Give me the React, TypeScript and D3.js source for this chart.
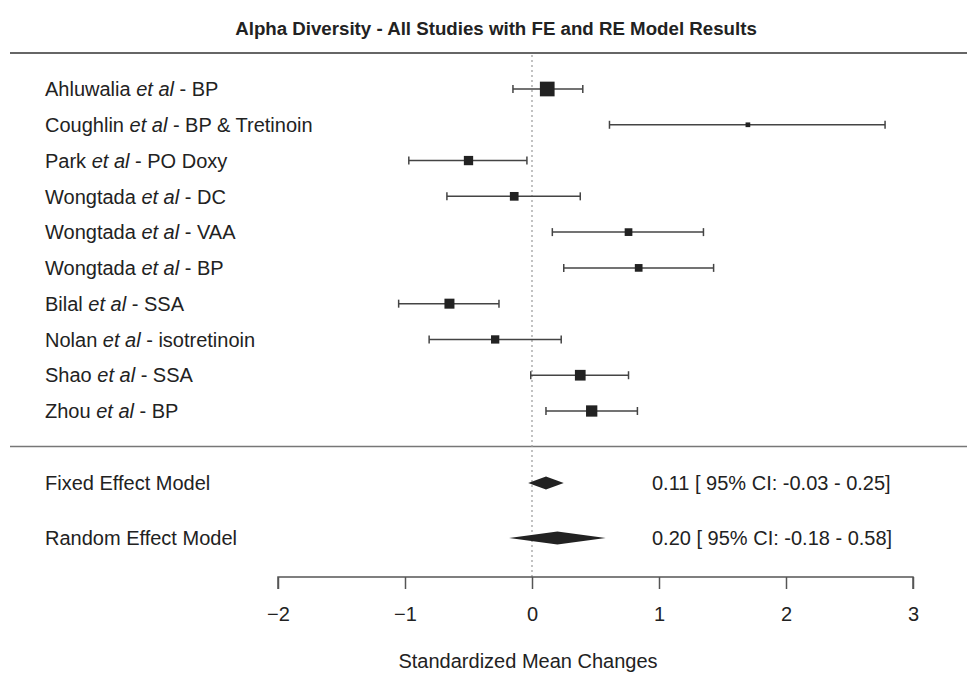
import React, { useEffect, useRef } from "react";
import * as d3 from "d3";

// study rows
const studies = ["Ahluwalia", "Coughlin", "Park", "Wongtada", "Wongtada", "Wongtada", "Bilal", "Nolan", "Shao", "Zhou"];
const treatments = ["BP", "BP & Tretinoin", "PO Doxy", "DC", "VAA", "BP", "SSA", "isotretinoin", "SSA", "BP"];
const estimates = [0.12, 1.70, -0.50, -0.14, 0.76, 0.84, -0.65, -0.29, 0.38, 0.47];
const ciLower = [-0.15, 0.61, -0.97, -0.67, 0.16, 0.25, -1.05, -0.81, -0.01, 0.11];
const ciUpper = [0.40, 2.78, -0.04, 0.38, 1.35, 1.43, -0.26, 0.23, 0.76, 0.83];
const weights = [14.7, 4.7, 9.3, 8.7, 7.7, 7.7, 10.0, 8.3, 10.7, 11.3];

// pooled models
const models = ["Fixed Effect Model", "Random Effect Model"];
const modelEstimates = [0.11, 0.20];
const modelLower = [-0.03, -0.18];
const modelUpper = [0.25, 0.58];

const xTicks = [-2, -1, 0, 1, 2, 3];

const W = 967;
const H = 674;
const FONT = "'Liberation Sans', Arial, Helvetica, sans-serif";

const App = () => {
    const svgRef = useRef<SVGSVGElement | null>(null);

    useEffect(() => {
        document.body.style.margin = "0";
        const svg = d3.select(svgRef.current);
        svg.selectAll("*").remove();

        const x = d3.scaleLinear().domain([-2, 3]).range([278, 913]);
        const y = d3.scalePoint<number>().domain(d3.range(studies.length)).range([89, 411]);
        const yModel = d3.scalePoint<number>().domain(d3.range(models.length)).range([483, 538]);
        const size = d3.scaleLinear().domain([0, d3.max(weights) as number]).range([0, 14.7]);

        const axisY = 577;
        const textColor = "#222";

        // title
        svg.append("text")
            .attr("x", 496)
            .attr("y", 35)
            .attr("text-anchor", "middle")
            .attr("font-family", FONT)
            .attr("font-weight", "bold")
            .attr("font-size", 18.7)
            .attr("fill", textColor)
            .text("Alpha Diversity - All Studies with FE and RE Model Results");

        // separator lines
        svg.append("line")
            .attr("x1", 10).attr("x2", W)
            .attr("y1", 53).attr("y2", 53)
            .attr("stroke", "#666").attr("stroke-width", 2);
        svg.append("line")
            .attr("x1", 10).attr("x2", W)
            .attr("y1", 446.5).attr("y2", 446.5)
            .attr("stroke", "#777").attr("stroke-width", 1.5);

        // zero reference line
        svg.append("line")
            .attr("x1", x(0)).attr("x2", x(0))
            .attr("y1", 55).attr("y2", axisY)
            .attr("stroke", "#999")
            .attr("stroke-width", 1.2)
            .attr("stroke-dasharray", "2,3");

        // study labels
        const labels = svg.append("g")
            .attr("font-family", FONT)
            .attr("font-size", 20)
            .attr("fill", textColor);
        studies.forEach((s, i) => {
            const t = labels.append("text")
                .attr("x", 45)
                .attr("y", y(i) as number)
                .attr("dy", "0.36em");
            t.append("tspan").text(s + " ");
            t.append("tspan").attr("font-style", "italic").text("et al");
            t.append("tspan").text(" - " + treatments[i]);
        });

        // confidence intervals
        const rows = svg.append("g");
        studies.forEach((_, i) => {
            const yy = y(i) as number;
            const g = rows.append("g").attr("stroke", "#444").attr("stroke-width", 1.5);
            g.append("line").attr("x1", x(ciLower[i])).attr("x2", x(ciUpper[i])).attr("y1", yy).attr("y2", yy);
            g.append("line").attr("x1", x(ciLower[i])).attr("x2", x(ciLower[i])).attr("y1", yy - 4).attr("y2", yy + 4);
            g.append("line").attr("x1", x(ciUpper[i])).attr("x2", x(ciUpper[i])).attr("y1", yy - 4).attr("y2", yy + 4);
            const s = size(weights[i]);
            rows.append("rect")
                .attr("x", x(estimates[i]) - s / 2)
                .attr("y", yy - s / 2)
                .attr("width", s)
                .attr("height", s)
                .attr("fill", "#222");
        });

        // pooled diamonds and text
        models.forEach((m, i) => {
            const yy = yModel(i) as number;
            svg.append("text")
                .attr("x", 45).attr("y", yy).attr("dy", "0.36em")
                .attr("font-family", FONT).attr("font-size", 20).attr("fill", textColor)
                .text(m);
            const pts: [number, number][] = [
                [x(modelLower[i]), yy],
                [x(modelEstimates[i]), yy - 6.5],
                [x(modelUpper[i]), yy],
                [x(modelEstimates[i]), yy + 6.5],
            ];
            svg.append("path")
                .attr("d", (d3.line()(pts) as string) + "Z")
                .attr("fill", "#222");
            svg.append("text")
                .attr("x", 652).attr("y", yy).attr("dy", "0.36em")
                .attr("font-family", FONT).attr("font-size", 20).attr("fill", textColor)
                .text(`${modelEstimates[i].toFixed(2)} [ 95% CI: ${modelLower[i].toFixed(2)} - ${modelUpper[i].toFixed(2)}]`);
        });

        // x axis
        const axis = svg.append("g")
            .attr("transform", `translate(0, ${axisY})`)
            .call(d3.axisBottom(x).tickValues(xTicks).tickSize(12).tickPadding(18).tickFormat(d3.format("d")));
        axis.select(".domain").attr("stroke", "#555").attr("stroke-width", 1.5).attr("d", `M${x(-2)},12V0H${x(3)}V12`);
        axis.selectAll(".tick line").attr("stroke", "#555").attr("stroke-width", 1.5);
        axis.selectAll(".tick text")
            .attr("font-family", FONT)
            .attr("font-size", 20)
            .attr("fill", textColor);

        svg.append("text")
            .attr("x", 528)
            .attr("y", 661)
            .attr("dy", "0.36em")
            .attr("text-anchor", "middle")
            .attr("font-family", FONT)
            .attr("font-size", 20)
            .attr("fill", textColor)
            .text("Standardized Mean Changes");
    }, []);

    return (
        <div>
            <svg ref={svgRef} width={W} height={H} style={{ display: "block", background: "#fff" }} />
        </div>
    );
};

export default App;
